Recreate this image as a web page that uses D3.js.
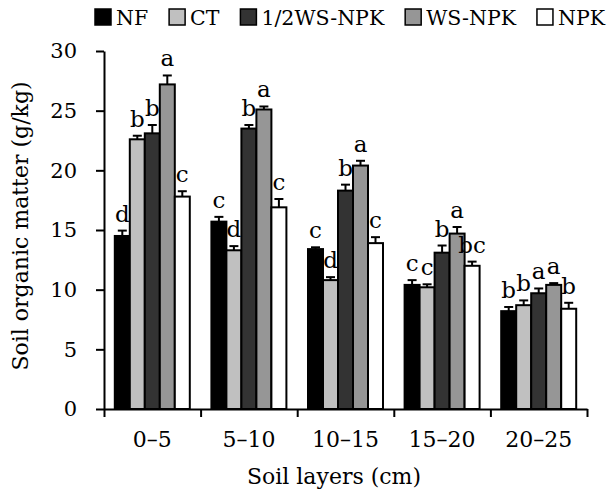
<!DOCTYPE html>
<html><head><meta charset="utf-8">
<script src="https://cdn.jsdelivr.net/npm/d3@7"></script>
<style>body{margin:0;background:#fff}svg{display:block}text{font-family:"DejaVu Serif",serif;fill:#000}</style>
</head><body><svg id="c" width="608" height="495"></svg>
<script>
const categories = ["0–5", "5–10", "10–15", "15–20", "20–25"];
const seriesNames = ["NF", "CT", "1/2WS-NPK", "WS-NPK", "NPK"];
const seriesColors = ["#000000", "#c0c0c0", "#333333", "#969696", "#ffffff"];
const NF = [14.5, 15.7, 13.4, 10.4, 8.2];
const CT = [22.6, 13.3, 10.8, 10.2, 8.7];
const WS_half = [23.1, 23.5, 18.3, 13.1, 9.7];
const WS = [27.2, 25.1, 20.4, 14.7, 10.4];
const NPK = [17.8, 16.9, 13.9, 12.0, 8.4];
const errNF = [0.45, 0.4, 0.15, 0.4, 0.35];
const errCT = [0.3, 0.35, 0.25, 0.25, 0.4];
const errWS_half = [0.7, 0.3, 0.5, 0.6, 0.4];
const errWS = [0.75, 0.25, 0.4, 0.55, 0.15];
const errNPK = [0.45, 0.7, 0.5, 0.35, 0.5];
const lettersNF = ["d", "c", "c", "c", "b"];
const lettersCT = ["b", "d", "d", "c", "b"];
const lettersWS_half = ["b", "b", "b", "b", "a"];
const lettersWS = ["a", "a", "a", "a", "a"];
const lettersNPK = ["c", "c", "c", "bc", "b"];
const yTicks = [0, 5, 10, 15, 20, 25, 30];

const values = [NF, CT, WS_half, WS, NPK];
const errs = [errNF, errCT, errWS_half, errWS, errNPK];
const letters = [lettersNF, lettersCT, lettersWS_half, lettersWS, lettersNPK];

const svg = d3.select("#c");
const L = 104, R = 587, T = 51, B = 409;
const y = d3.scaleLinear().domain([0, 30]).range([B, T]);
const x0 = d3.scaleBand().domain(categories).range([L, R]).padding(0);
const inset = 10.8;
const x1 = d3.scaleBand().domain(seriesNames).range([inset, x0.bandwidth() - inset]).padding(0);

const data = [];
categories.forEach((c, i) => seriesNames.forEach((s, j) => data.push({
  c, s, j, v: values[j][i], e: errs[j][i], l: letters[j][i]
})));

const g = svg.append("g");
g.selectAll("rect.bar").data(data).join("rect")
  .attr("x", d => x0(d.c) + x1(d.s))
  .attr("y", d => y(d.v))
  .attr("width", x1.bandwidth())
  .attr("height", d => y(0) - y(d.v))
  .attr("fill", d => seriesColors[d.j])
  .attr("stroke", "#000").attr("stroke-width", 2);
const cx = d => x0(d.c) + x1(d.s) + x1.bandwidth() / 2;
g.selectAll("line.eb").data(data).join("line")
  .attr("x1", cx).attr("x2", cx)
  .attr("y1", d => y(d.v)).attr("y2", d => y(d.v + d.e))
  .attr("stroke", "#000").attr("stroke-width", 2);
g.selectAll("line.cap").data(data).join("line")
  .attr("x1", d => cx(d) - 4.5).attr("x2", d => cx(d) + 4.5)
  .attr("y1", d => y(d.v + d.e)).attr("y2", d => y(d.v + d.e))
  .attr("stroke", "#000").attr("stroke-width", 2);
g.selectAll("text.lt").data(data).join("text")
  .attr("x", cx).attr("y", d => y(d.v + d.e) - 9)
  .attr("text-anchor", "middle").attr("font-size", 23)
  .text(d => d.l);

const yAx = svg.append("g").attr("transform", `translate(${L},0)`)
  .call(d3.axisLeft(y).tickValues(yTicks).tickSize(8).tickSizeOuter(0).tickPadding(19));
yAx.selectAll("line,path").attr("stroke", "#000").attr("stroke-width", 2);
yAx.selectAll("text").attr("font-size", 21).style("font-family", '"DejaVu Serif",serif');

const xb = d3.scaleLinear().domain([0, categories.length]).range([L, R]);
const xAx = svg.append("g").attr("transform", `translate(0,${B})`)
  .call(d3.axisBottom(xb).ticks(categories.length).tickSize(8).tickSizeOuter(0).tickFormat(""));
xAx.selectAll("line,path").attr("stroke", "#000").attr("stroke-width", 2);
const xLab = svg.append("g").attr("transform", `translate(0,${B})`)
  .call(d3.axisBottom(x0).tickSize(0).tickPadding(22));
xLab.select("path").remove();
xLab.selectAll("text").attr("font-size", 22).style("font-family", '"DejaVu Serif",serif');

svg.append("text").attr("x", 334).attr("y", 484).attr("text-anchor", "middle")
  .attr("font-size", 22).text("Soil layers (cm)");
svg.append("text").attr("transform", "translate(28,226) rotate(-90)")
  .attr("text-anchor", "middle").attr("font-size", 22).text("Soil organic matter (g/kg)");

// legend: spread items between x=95 and x=605
const lg = svg.append("g");
const texts = seriesNames.map(s => lg.append("text").attr("y", 25).attr("font-size", 20.5).text(s));
const widths = texts.map(t => t.node().getComputedTextLength());
const sq = 16, sqGap = 5, lStart = 95, lEnd = 605;
const gap = (lEnd - lStart - d3.sum(widths) - seriesNames.length * (sq + sqGap)) / (seriesNames.length - 1);
let lx = lStart;
seriesNames.forEach((s, j) => {
  lg.append("rect").attr("x", lx).attr("y", 9).attr("width", sq).attr("height", sq)
    .attr("fill", seriesColors[j]).attr("stroke", "#000").attr("stroke-width", 1.5);
  texts[j].attr("x", lx + sq + sqGap);
  lx += sq + sqGap + widths[j] + gap;
});
</script></body></html>
